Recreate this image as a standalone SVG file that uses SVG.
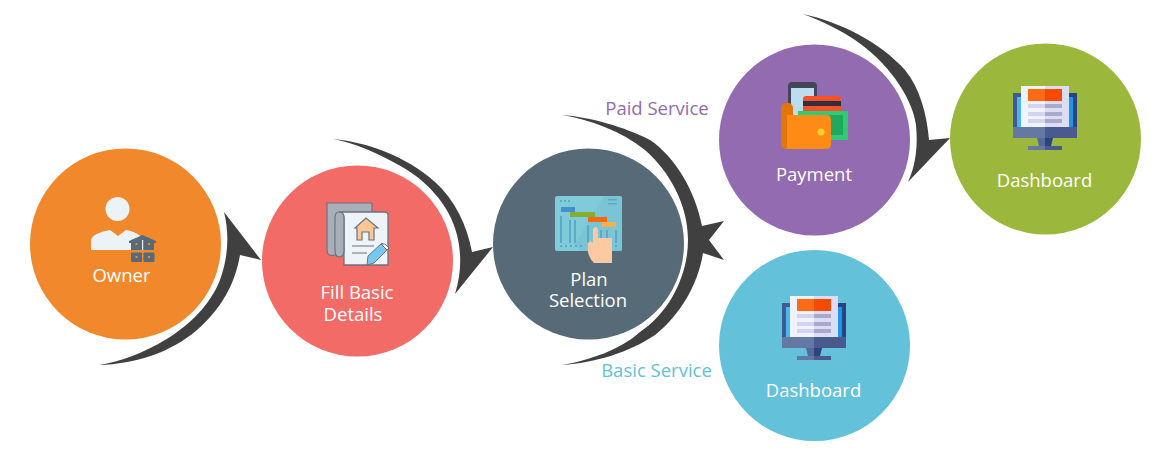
<svg xmlns="http://www.w3.org/2000/svg" width="1170" height="450" viewBox="0 0 1170 450">
<style>
.lbl{font-family:"Open Sans","Liberation Sans",sans-serif;font-size:18.5px;fill:#fff;text-anchor:middle}
.side{font-family:"Open Sans","Liberation Sans",sans-serif;font-size:18.5px;text-anchor:middle}
.arrow{fill:#404040}
.doc{fill:#edf3f7;stroke:#6b7380;stroke-width:1.3}
.dk{stroke:#6b7380;stroke-width:1.2;fill:none}
.bar{fill:#5ea9c9}
.bld{fill:#566a7a}
.win{fill:#f1882c}
</style>
<defs>
<g id="monitor">
<rect x="-32" y="-34" width="32" height="34" fill="#3f5a96"/>
<rect x="0" y="-34" width="32" height="34" fill="#2d4280"/>
<rect x="-28" y="-30" width="28" height="30" fill="#4db5ef"/>
<rect x="0" y="-30" width="28" height="30" fill="#1f95ea"/>
<rect x="-24" y="-41" width="24" height="41" fill="#f1f3fb"/>
<rect x="0" y="-41" width="24" height="41" fill="#dcdcf4"/>
<rect x="-17" y="-38" width="17" height="12" fill="#ff6b14"/>
<rect x="0" y="-38" width="17" height="12" fill="#f54a00"/>
<rect x="-17" y="-23" width="17" height="4" fill="#d4d4f2"/><rect x="0" y="-23" width="17" height="4" fill="#a9a9cc"/>
<rect x="-17" y="-15" width="17" height="4" fill="#d4d4f2"/><rect x="0" y="-15" width="17" height="4" fill="#a9a9cc"/>
<rect x="-17" y="-8" width="17" height="4" fill="#d4d4f2"/><rect x="0" y="-8" width="17" height="4" fill="#a9a9cc"/>
<rect x="-32" y="0" width="32" height="11" fill="#6478a4"/>
<rect x="0" y="0" width="32" height="11" fill="#485a8e"/>
<path d="M-8 11H0V19H-6Z" fill="#54699d"/><path d="M0 11H8L6 19H0Z" fill="#2d4280"/>
<rect x="-17" y="19" width="17" height="4" fill="#6478a4"/><rect x="0" y="19" width="17" height="4" fill="#485a8e"/>
</g>
</defs>
<g id="connectors">
<path class="arrow" d="M99 365C135 364 170 353 197 330C220 310 235 285 240 255L261 260L224 212C229 232 229 255 220 280C210 305 190 325 165 340C145 352 120 362 99 365Z"/>
<path class="arrow" d="M333 139C365 142 405 155 435 182C455 200 467 225 472 252L493 247L455 294C461 275 462 255 457 235C450 205 425 178 395 163C375 152 355 143 333 139Z"/>
<path class="arrow" d="M562 115C590 117 625 127 650 140C675 157 695 190 702 226L724 221L709 240L724 260L703 253C698 285 680 315 655 335C630 352 595 363 562 365C590 360 620 350 640 332C670 312 688 275 688 240C688 205 670 172 645 150C620 130 590 120 562 115Z"/>
<path class="arrow" d="M803 14C840 22 880 42 905 70C920 88 927 115 929 140L950 138L908 182C916 165 918 145 916 125C912 95 885 60 855 40C840 30 820 20 803 14Z"/>
</g>
<g id="owner">
<circle cx="125.500" cy="244" r="95.500" fill="#f1882c"/>
<circle cx="117.500" cy="209" r="12" fill="#ecf3f7"/>
<path d="M91 250V240C92 234 104 231 110 230L118 236L126 230C133 231 141 235 144 240V250Z" fill="#ecf3f7"/>
<path class="bld" d="M129 241L142.500 235L156 241V243L154 243V250H131V243L129 243Z"/>
<rect x="142" y="240" width="1.200" height="10" fill="#ecf3f7"/>
<rect x="131" y="252.500" width="11" height="9.500" rx="1" class="bld"/><rect x="143.500" y="252.500" width="11" height="9.500" rx="1" class="bld"/>
<rect x="135.500" y="243" width="2" height="2" class="win"/><rect x="148" y="243" width="2" height="2" class="win"/>
<rect x="135.500" y="256" width="2" height="2" class="win"/><rect x="148" y="256" width="2" height="2" class="win"/>
<text class="lbl" x="121.500" y="282">Owner</text>
</g>
<g id="fill-details">
<circle cx="357.500" cy="261" r="95.500" fill="#f26b67"/>
<path d="M327 203H372V255H335Q327 257 327 250Z" fill="#a9afb9" stroke="#6b7380" stroke-width="1.2"/>
<path d="M339 212H385Q388 212 388 215V265H344V217Q343 212 339 212Z" class="doc"/>
<path d="M339 212Q344 212 344 218V250Q344 257 339.500 257Q335 257 335 250V218Q335 212 339 212Z" fill="#a9afb9" stroke="#6b7380" stroke-width="1.200"/>
<path d="M355 228L366 218L378 228H374V240H369V232H362V240H357V228Z" fill="#fdc793" stroke="#6b7380" stroke-width="1.200"/>
<path class="dk" d="M352 246H374M352 253H367"/>
<path d="M368 256L382 243L388 249L374 263L367 265Z" fill="#77c7ee" stroke="#6b7380" stroke-width="1"/>
<path d="M381 244L385 244L389 248L387 250Z" fill="#fff" stroke="#6b7380" stroke-width="1"/>
<text class="lbl" x="357" y="299">Fill Basic</text>
<text class="lbl" x="353" y="321">Details</text>
</g>
<g id="plan-selection">
<circle cx="588.500" cy="244" r="95.500" fill="#566a78"/>
<rect x="555" y="196" width="67" height="55" rx="2" fill="#7fcbda"/>
<path d="M604 196H620Q622 196 622 198V251H580L575 244Z" fill="#74bfd0" opacity=".5"/>
<path class="bar" d="M560 200h2v2h-2zM564 200h2v2h-2zM568 200h2v2h-2zM608 199h9v1.500h-9zM608 203h9v1.500h-9z"/>
<path class="bar" d="M560 245h2v2h-2zM565 245h2v2h-2zM570 245h2v2h-2zM575 245h2v2h-2zM580 245h2v2h-2zM615 245h2v2h-2z"/>
<rect x="561" y="207" width="14" height="5" fill="#4490ce"/>
<rect x="570" y="212" width="25" height="5" fill="#84ae31"/>
<rect x="588" y="217" width="19" height="5" fill="#f4690f"/>
<rect x="602" y="222" width="14" height="5" fill="#f8b04e"/>
<path class="bar" d="M560 216h2v27h-2zM569 220h2v23h-2zM574 220h2v23h-2zM587 225h2v18h-2zM600 230h2v13h-2zM606 230h2v13h-2zM615 230h2v13h-2z"/>
<path d="M594 263Q589 258 588 252V243Q590 240 593 243V229Q595.500 225 598 229V238H612V263Z" fill="#fdc9a3"/>
<text class="lbl" x="589" y="286">Plan</text>
<text class="lbl" x="588" y="307">Selection</text>
</g>
<g id="payment">
<circle cx="814.500" cy="140" r="95.500" fill="#926bb0"/>
<rect x="788" y="82" width="29" height="45" rx="4" fill="#43465a"/>
<rect x="791" y="88" width="23" height="40" fill="#bcdcf0"/>
<rect x="803" y="96" width="38" height="20" rx="3" fill="#fb4f27"/>
<rect x="803" y="101" width="38" height="5" fill="#2e2f3f"/>
<rect x="798" y="111" width="50" height="29" fill="#2ecb74"/>
<rect x="828" y="115" width="15" height="20" fill="#22a85d"/>
<rect x="781" y="103" width="12" height="46" rx="5" fill="#e0760c"/>
<path d="M787 115H826Q831 115 831 120V144Q831 149 826 149H787Z" fill="#fd8b16"/>
<circle cx="821" cy="132" r="3.600" fill="#ffd02e"/>
<text class="lbl" x="814" y="181">Payment</text>
</g>
<g id="dashboard-paid">
<circle cx="1045.500" cy="139" r="95.500" fill="#9cb83c"/>
<use href="#monitor" x="1045" y="127"/>
<text class="lbl" x="1044.500" y="187">Dashboard</text>
</g>
<g id="dashboard-basic">
<circle cx="814.500" cy="345.500" r="95.500" fill="#63c1da"/>
<use href="#monitor" x="814" y="337"/>
<text class="lbl" x="813.500" y="397">Dashboard</text>
</g>
<text id="paid-service" class="side" x="657" y="115" fill="#926bb0">Paid Service</text>
<text id="basic-service" class="side" x="656.500" y="377" fill="#63c1da">Basic Service</text>
</svg>
